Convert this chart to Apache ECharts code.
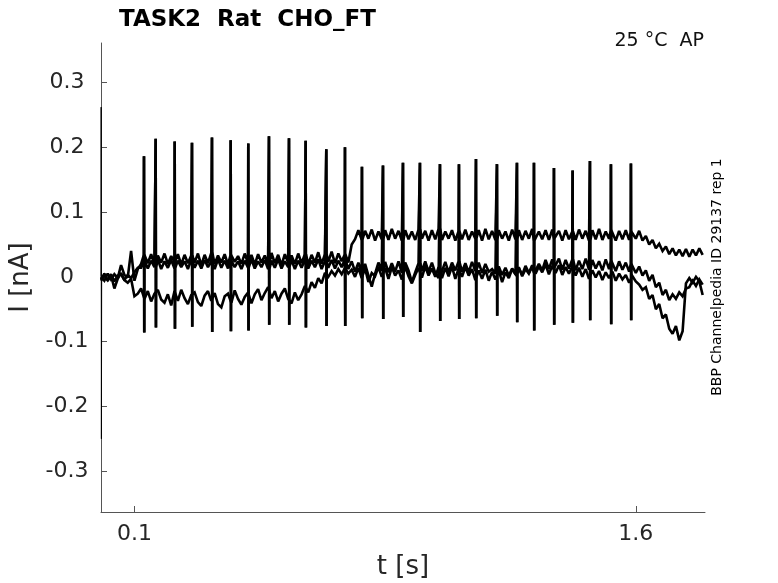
<!DOCTYPE html>
<html>
<head>
<meta charset="utf-8">
<script src="https://cdn.jsdelivr.net/npm/echarts@6/dist/echarts.min.js"></script>
<style>
html,body{margin:0;padding:0;background:#fff;}
#chart{width:778px;height:583px;}
</style>
</head>
<body>
<div id="chart"></div>
<script>
// sampling step of the traces (s); values in units of 0.001 nA
const DT = 0.01;

const traceA = [0, -6, 5, -4, 4, -2, 18, 3, -1, 40, -6, 12,
20, 34, 21, 35, 19, 33, 22, 36, 20, 32, 23, 35, 19, 34, 21, 33,
22, 36, 18, 34, 21, 37, 20, 33, 22, 35, 19, 34, 23, 32, 20, 36,
21, 34, 19, 35, 22, 33, 20, 37, 21, 34, 18, 35, 22, 33, 20, 36,
21, 35, 19, 34, 22, 38, 20, 35, 23, 39, 21, 36, 24, 35, 22, 50,
58, 72, 57, 71, 59, 73, 56, 70, 58, 72, 57, 74, 59, 71, 56, 72,
58, 70, 57, 73, 59, 71, 56, 72, 58, 74, 57, 70, 59, 72, 56, 71,
58, 73, 57, 70, 59, 72, 56, 74, 58, 71, 57, 72, 59, 70, 56, 73,
58, 72, 57, 71, 59, 74, 56, 70, 58, 72, 57, 73, 59, 71, 56, 72,
58, 70, 57, 73, 59, 71, 56, 72, 58, 74, 57, 70, 59, 72, 56, 71,
58, 72, 57, 70, 59, 71,
56, 63, 50, 57, 44, 51, 40, 47, 35, 44, 33, 42, 32, 43, 31, 42, 33, 44, 34];

const traceB = [-4, 5, -6, 3, -18, -3, 6, -5, 3, -2, 7, 14,
14, 26, 13, 25, 15, 27, 12, 24, 14, 26, 13, 25, 15, 24, 12, 27,
14, 25, 13, 26, 15, 24, 12, 27, 14, 25, 13, 26, 15, 24, 12, 25,
14, 27, 13, 24, 15, 26, 12, 25, 14, 27, 13, 24, 15, 26, 12, 25,
14, 26, 13, 25, 15, 27, 12, 24, 14, 26, 13, 25, 15, 27, 12, 24,
8, 22, 6, 20, 2, -15, 5, 22, 9, 23, 7, 21, 8, 24, 6, 22,
10, -8, 7, 21, 9, 24, 8, 22, 6, -2, 9, 23, 7, 22, 10, 24,
8, 21, 7, 23, 9, 22, 6, 20, 8, 12, 5, 16, 3, 14, 2, 13,
4, 15, 1, 12, 5, 16, 6, 20, 10, 26, 12, 27, 14, 28, 11, 26,
13, 27, 10, 25, 12, 28, 11, 26, 13, 24, 10, 27, 12, 25, 9, 24,
11, 22, 8, 20, 6, 16,
2, 10, -6, 3, -16, -9, -28, -20, -36, -27, -34, -24, -30, -18, -16, -6, -14, -4, -12];

const traceC = [-6, 3, -5, 4, -7, 2, 4, -5, -9, -3, -30, -26,
-18, -34, -22, -38, -26, -20, -35, -40, -27, -44, -22, -37, -20, -33, -42, -28,
-24, -39, -45, -29, -22, -37, -25, -42, -47, -30, -26, -40, -21, -34, -43, -31,
-24, -41, -27, -19, -36, -25, -16, -33, -22, -38, -26, -18, -34, -41, -24, -36,
-27, -14, -24, -8, -17, -2, -10, 6, 0, 9, 2, 12, 4, 14, 5, 11,
0, 14, -2, 13, -8, 6, 1, 15, 0, 14, -3, 15, 2, 10, -4, 16,
1, -10, 3, 14, -1, 16, 2, 13, 0, 15, -2, 14, 1, 16, -3, 13,
0, 15, 2, 12, -5, 10, -3, 11, -6, 8, -4, 10, -8, 7, -2, 12,
4, 13, 3, 17, 6, 18, 5, 16, 7, 19, 4, 17, 6, 18, 3, 15,
5, 16, 2, 14, 0, 12, -3, 10, -1, 9, -5, 7, -2, 8, -6, 5,
-4, 3, -9, 1, -7, -12,
-20, -16, -34, -28, -50, -42, -64, -58, -80, -88, -76, -98, -84, -10, -2, -9, 0, -7, -28];

// action-potential-clamp transients (s, nA)
const spikeTimes = [0.1286, 0.1636, 0.2205, 0.2722, 0.3320, 0.3880, 0.4406, 0.5025, 0.5624,
  0.6123, 0.6740, 0.7299, 0.7807, 0.8436, 0.9034, 0.9542, 1.0141, 1.0709, 1.1218, 1.1846,
  1.2444, 1.2953, 1.3551, 1.4110, 1.4628, 1.5256, 1.5854];
const spikeTops = [0.186, 0.213, 0.209, 0.207, 0.215, 0.211, 0.206, 0.217, 0.214,
  0.210, 0.197, 0.200, 0.170, 0.172, 0.176, 0.176, 0.174, 0.174, 0.182, 0.174,
  0.176, 0.176, 0.168, 0.164, 0.179, 0.174, 0.175];
const spikeBottoms = [-0.086, -0.078, -0.080, -0.077, -0.085, -0.084, -0.083, -0.074, -0.074,
  -0.078, -0.076, -0.076, -0.064, -0.065, -0.062, -0.085, -0.068, -0.065, -0.064, -0.060,
  -0.070, -0.083, -0.074, -0.071, -0.067, -0.073, -0.067];

// capacitive transient at t = 0 (s, nA)
const transientTimes = [0, 0.0005, 0.0012, 0.002];
const transientValues = [0, 0.262, -0.25, 0];

const xTicks = [0.1, 1.6];
const yTicks = [-0.3, -0.2, -0.1, 0, 0.1, 0.2, 0.3];

function buildTrace(vals, withSpikes) {
  const pts = vals.map((v, i) => [i * DT, v / 1000]);
  if (withSpikes) {
    spikeTimes.forEach((t, k) => {
      const base = vals[Math.round(t / DT)] / 1000;
      pts.push([t - 0.0003, base]);
      pts.push([t, spikeTops[k]]);
      pts.push([t + 0.0008, spikeBottoms[k]]);
      pts.push([t + 0.0011, base]);
    });
  }
  pts.sort((a, b) => a[0] - b[0]);
  return pts;
}

const chart = echarts.init(document.getElementById('chart'), null, {renderer: 'canvas'});
const FONT = 'DejaVu Sans';

function lineSeries(data, w) {
  return {
    type: 'line', data: data, showSymbol: false, symbol: 'none', sampling: 'none',
    animation: false, silent: true,
    lineStyle: {color: '#000', width: w, join: 'miter', miterLimit: 2}
  };
}

chart.setOption({
  animation: false,
  backgroundColor: '#fff',
  title: {
    text: 'TASK2  Rat  CHO_FT', left: 114, top: 4,
    textStyle: {fontFamily: FONT, fontSize: 23, fontWeight: 'bold', color: '#000'}
  },
  grid: {left: 101, right: 73, top: 43, bottom: 71, containLabel: false, outerBoundsMode: 'none'},
  xAxis: {
    type: 'value', min: 0, max: 1.807,
    name: 't [s]', nameLocation: 'middle', nameGap: 42,
    nameTextStyle: {fontFamily: FONT, fontSize: 26, color: '#262626'},
    axisLine: {show: true, onZero: false, lineStyle: {color: '#555', width: 1}},
    axisTick: {show: true, inside: true, length: 6, customValues: xTicks, lineStyle: {color: '#555'}},
    axisLabel: {customValues: xTicks, margin: 11, fontFamily: FONT, fontSize: 22, color: '#262626',
      formatter: v => v.toFixed(1)},
    splitLine: {show: false}
  },
  yAxis: {
    type: 'value', min: -0.363, max: 0.361,
    name: 'I [nA]', nameLocation: 'middle', nameGap: 48,
    nameTextStyle: {fontFamily: FONT, fontSize: 26, color: '#262626'},
    axisLine: {show: true, onZero: false, lineStyle: {color: '#555', width: 1}},
    axisTick: {show: true, inside: true, length: 6, customValues: yTicks, lineStyle: {color: '#555'}},
    axisLabel: {customValues: yTicks, margin: 34, align: 'center', fontFamily: FONT, fontSize: 22, color: '#262626',
      formatter: v => (Math.abs(v) < 1e-9 ? '0' : v.toFixed(1))},
    splitLine: {show: false}
  },
  graphic: [
    {type: 'text', x: 704, y: 41, silent: true,
      style: {text: '25 °C  AP', font: '19px "DejaVu Sans"', fill: '#111', align: 'right', verticalAlign: 'middle'}},
    {type: 'text', x: 717, y: 277, rotation: Math.PI / 2, silent: true,
      style: {text: 'BBP Channelpedia ID 29137 rep 1', font: '14px "DejaVu Sans"', fill: '#000', align: 'center', verticalAlign: 'middle'}}
  ],
  series: [
    lineSeries(transientTimes.map((t, k) => [t, transientValues[k]]), 1),
    lineSeries(buildTrace(traceC, false), 2.6),
    lineSeries(buildTrace(traceB, true), 2.6),
    lineSeries(buildTrace(traceA, true), 2.6)
  ]
});
</script>
</body>
</html>
